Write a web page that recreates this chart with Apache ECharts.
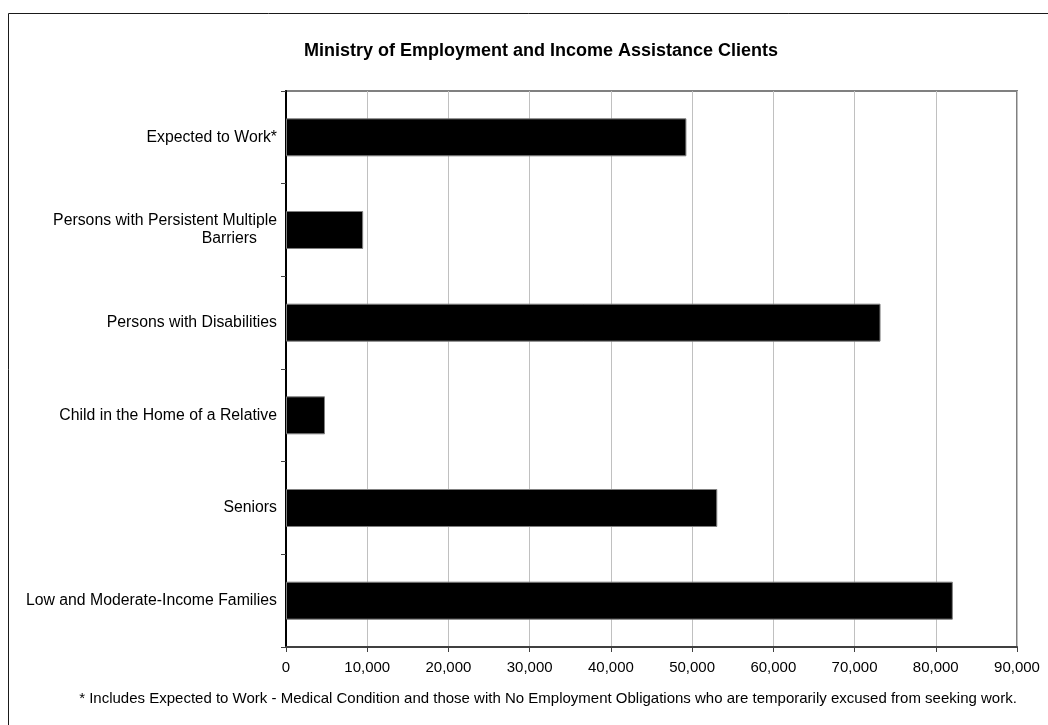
<!DOCTYPE html>
<html>
<head>
<meta charset="utf-8">
<title>Ministry of Employment and Income Assistance Clients</title>
<script src="https://cdn.jsdelivr.net/npm/echarts@6/dist/echarts.min.js"></script>
<style>
  html, body { margin: 0; padding: 0; background: #ffffff; }
  #chart { width: 1048px; height: 725px; }
</style>
</head>
<body>
<div id="chart"></div>
<script>
// Client groups, top to bottom
const categories = [
  'Expected to Work*',
  'Persons with Persistent Multiple\nBarriers',
  'Persons with Disabilities',
  'Child in the Home of a Relative',
  'Seniors',
  'Low and Moderate-Income Families'
];

// Number of clients in each group
const clients = [49300, 9500, 73200, 4800, 53100, 82100];

// Horizontal axis range
const axisMin = 0;
const axisMax = 90000;
const axisStep = 10000;

const titleText = 'Ministry of Employment and Income Assistance Clients';
const footnoteText = '* Includes Expected to Work - Medical Condition and those with No Employment Obligations who are temporarily excused from seeking work.';

const chart = echarts.init(document.getElementById('chart'));

const font = 'Arial, "Liberation Sans", Helvetica, sans-serif';
const catFontSize = 15.8;

chart.setOption({
  backgroundColor: '#ffffff',
  animation: false,
  textStyle: { fontFamily: font },
  title: [
    {
      text: titleText,
      left: 536,
      top: 37,
      textAlign: 'center',
      textStyle: { fontFamily: font, fontSize: 18, fontWeight: 'bold', color: '#000000' }
    },
    {
      text: footnoteText,
      left: 543,
      top: 686,
      textAlign: 'center',
      textStyle: { fontFamily: font, fontSize: 15, fontWeight: 'normal', color: '#000000' }
    }
  ],
  graphic: [
    {
      type: 'rect',
      shape: { x: 8.5, y: 13.5, width: 1200, height: 900 },
      style: { fill: 'none', stroke: '#1a1a1a', lineWidth: 1 },
      silent: true,
      z: -1
    }
  ],
  grid: {
    left: 286,
    right: 31,
    top: 91,
    bottom: 78,
    show: true,
    borderColor: '#808080',
    borderWidth: 2,
    backgroundColor: '#ffffff'
  },
  xAxis: {
    type: 'value',
    min: axisMin,
    max: axisMax,
    interval: axisStep,
    axisLine: { show: true, lineStyle: { color: '#404040', width: 2 } },
    axisTick: { show: true, length: 5, lineStyle: { color: '#404040', width: 1 } },
    axisLabel: {
      margin: 13,
      fontSize: 15,
      color: '#000000',
      fontFamily: font,
      formatter: v => v.toLocaleString('en-US')
    },
    splitLine: { show: true, lineStyle: { color: '#c0c0c0', width: 1 } }
  },
  yAxis: {
    type: 'category',
    data: categories,
    inverse: true,
    axisLine: { show: true, lineStyle: { color: '#000000', width: 2 } },
    axisTick: { show: true, length: 5, lineStyle: { color: '#404040', width: 1 } },
    axisLabel: {
      margin: 9,
      fontSize: catFontSize,
      color: '#000000',
      fontFamily: font,
      lineHeight: 18,
      formatter: function (value) {
        const parts = value.split('\n');
        if (parts.length === 1) return value;
        return '{a|' + parts[0] + '}\n{b|' + parts[1] + '}';
      },
      rich: {
        a: { fontSize: catFontSize, fontFamily: font, color: '#000000', lineHeight: 18 },
        b: { fontSize: catFontSize, fontFamily: font, color: '#000000', lineHeight: 18, padding: [0, 20, 0, 0] }
      }
    },
    splitLine: { show: false }
  },
  series: [
    {
      type: 'bar',
      data: clients,
      barCategoryGap: '59%',
      itemStyle: { color: '#000000', borderColor: '#808080', borderWidth: 1 },
      label: { show: false }
    }
  ]
});
</script>
</body>
</html>
